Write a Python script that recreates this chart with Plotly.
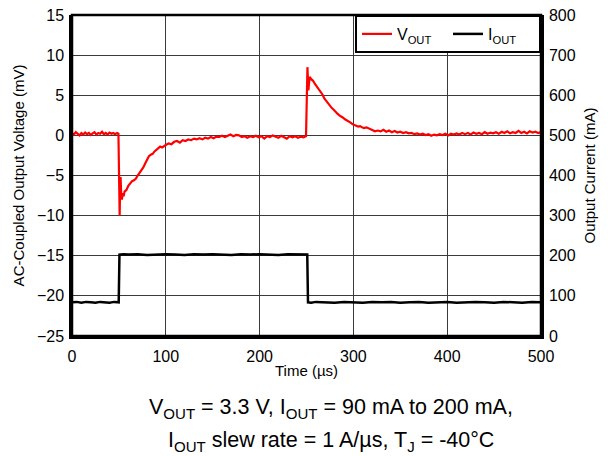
import plotly.graph_objects as go

# VOUT (AC-coupled, mV) vs time (us)
time_v = [0, 2, 4, 6, 8, 10, 12, 14, 16, 18, 20, 22, 24, 26, 28, 30, 32, 34, 36, 38, 40, 42, 44, 46, 48, 49.5,
          50.3, 50.8, 51.3, 51.8, 52.5, 53.2, 54, 55, 56, 58, 60, 62, 64, 66, 68, 70, 72, 74, 76, 78, 80, 82, 84,
          86, 88, 90, 92, 94, 96, 98, 100, 103, 106, 109, 112, 115, 118, 121, 124, 127, 130, 133, 136, 139, 142,
          145, 148, 151, 154, 157, 160, 163, 166, 169, 172, 175, 178, 181, 184, 187, 190, 193, 196, 199, 202, 205,
          208, 211, 214, 217, 220, 223, 226, 229, 232, 235, 238, 241, 244, 247, 249.5,
          250.5, 251, 251.5, 252, 252.7, 253.5, 255, 257, 259, 261, 263, 265, 267, 269, 271, 273, 275, 277, 279,
          281, 283, 285, 287, 289, 291, 293, 295, 297, 299, 301, 303, 305, 307, 309, 311, 314, 317, 320, 323, 326,
          329, 332, 335, 338, 341, 344, 347, 350, 353, 356, 359, 362, 365, 368, 371, 374, 377, 380, 383, 386, 389,
          392, 395, 398, 401, 404, 407, 410, 413, 416, 419, 422, 425, 428, 431, 434, 437, 440, 443, 446, 449, 452,
          455, 458, 461, 464, 467, 470, 473, 476, 479, 482, 485, 488, 491, 494, 497, 500]
vout_mv = [0.3, 0.1, 0.4, 0.2, 0.0, 0.3, 0.1, 0.35, 0.15, 0.3, 0.05, 0.25, 0.4, 0.1, 0.3, 0.2, 0.45, 0.15, 0.3, 0.1,
           0.35, 0.2, 0.3, 0.15, 0.3, 0.2,
           -5.0, -10.0, -6.5, -5.2, -7.5, -8.0, -7.2, -7.6, -7.0, -6.8, -6.3, -6.0, -5.7, -5.6, -5.4, -5.0, -4.7,
           -4.3, -4.0, -3.5, -3.0, -2.6, -2.4, -2.3, -2.0, -1.8, -1.6, -1.4, -1.5, -1.3, -1.2, -1.0, -1.1, -0.8,
           -0.7, -0.9, -0.6, -0.7, -0.5, -0.6, -0.4, -0.5, -0.35, -0.5, -0.3, -0.4, -0.2, -0.35, -0.15, -0.2, -0.05,
           -0.2, 0.0, 0.1, -0.1, 0.05, 0.0, -0.2, -0.1, -0.3, -0.1, -0.2, -0.05, -0.25, -0.1, -0.4, -0.1, -0.2, 0.0,
           -0.15, -0.3, -0.05, -0.2, -0.4, -0.1, -0.25, -0.1, -0.3, -0.15, -0.25, -0.1,
           4.0, 8.5, 7.0, 5.6, 6.5, 7.3, 7.0, 6.8, 6.4, 6.1, 5.8, 5.4, 5.1, 4.6, 4.3, 3.9, 3.6, 3.4, 3.2, 2.9, 2.7,
           2.5, 2.4, 2.2, 2.0, 1.9, 1.7, 1.6, 1.4, 1.3, 1.2, 1.1, 1.15, 1.0, 0.9, 1.0, 0.8, 0.7, 0.5, 0.6, 0.5, 0.7,
           0.45, 0.6, 0.4, 0.55, 0.35, 0.45, 0.3, 0.4, 0.25, 0.3, 0.15, 0.25, 0.1, 0.2, 0.05, 0.15, -0.05, 0.1, 0.0,
           0.15, 0.05, 0.2, 0.0, 0.2, 0.1, 0.25, 0.1, 0.3, 0.15, 0.3, 0.1, 0.35, 0.2, 0.3, 0.15, 0.4, 0.2, 0.35,
           0.25, 0.4, 0.2, 0.45, 0.3, 0.5, 0.25, 0.4, 0.3, 0.55, 0.3, 0.45, 0.25, 0.5, 0.35, 0.45, 0.3, 0.4]

# IOUT (mA) vs time (us)
time_i = [0, 5, 10, 15, 20, 25, 30, 35, 40, 45, 49.8, 50.6, 55, 60, 70, 80, 90, 100, 110, 120, 130, 140, 150, 160,
          170, 180, 190, 200, 210, 220, 230, 240, 250.8, 251.6, 255, 260, 270, 280, 290, 300, 310, 320, 330, 340,
          350, 360, 370, 380, 390, 400, 410, 420, 430, 440, 450, 460, 470, 480, 490, 500]
iout_ma = [84, 85, 83, 85, 84, 83, 85, 84, 83, 85, 84, 203, 204, 203, 204, 202, 203, 204, 203, 202, 204, 203, 204,
           203, 202, 204, 203, 204, 203, 202, 204, 203, 203, 84, 83, 85, 84, 83, 85, 84, 83, 85, 84, 85, 83, 84,
           85, 83, 84, 85, 83, 84, 85, 84, 83, 85, 84, 83, 85, 84]

x_ticks = [0, 100, 200, 300, 400, 500]
y_left_ticks = [15, 10, 5, 0, -5, -10, -15, -20, -25]
y_right_ticks = [0, 100, 200, 300, 400, 500, 600, 700, 800]

caption_line1 = "V<sub>OUT</sub> = 3.3 V, I<sub>OUT</sub> = 90 mA to 200 mA,"
caption_line2 = "I<sub>OUT</sub> slew rate = 1 A/µs, T<sub>J</sub> = -40°C"

FONT = "Liberation Sans, Arial, sans-serif"

fig = go.Figure()
fig.add_trace(go.Scatter(x=time_v, y=vout_mv, mode="lines", name="V<sub>OUT</sub>",
                         line=dict(color="#ff0000", width=2.2), yaxis="y"))
fig.add_trace(go.Scatter(x=time_i, y=iout_ma, mode="lines", name="I<sub>OUT</sub>",
                         line=dict(color="#000000", width=2.5), yaxis="y2"))

axis_common = dict(showline=True, linecolor="black", linewidth=2.5, mirror=False, ticks="",
                   tickfont=dict(family=FONT, size=16, color="black"), zeroline=False, automargin=False,
                   ticklabeloverflow="allow")

fig.update_layout(
    width=600, height=448,
    margin=dict(l=64, r=67, t=7, b=120),
    paper_bgcolor="white", plot_bgcolor="white",
    font=dict(family=FONT, color="black"),
    xaxis=dict(range=[0, 500], tickvals=x_ticks, showgrid=True, gridcolor="#3a3a3a", gridwidth=1,
               ticklabelstandoff=4,
               title=dict(text="Time (µs)", font=dict(size=15), standoff=2), **axis_common),
    yaxis=dict(range=[-25, 15], tickvals=y_left_ticks, showgrid=True, gridcolor="#3a3a3a", gridwidth=1,
               ticklabelstandoff=2,
               title=dict(text="AC-Coupled Output Voltage (mV)", font=dict(size=15), standoff=9),
               **axis_common),
    yaxis2=dict(range=[0, 800], tickvals=y_right_ticks, overlaying="y", side="right", showgrid=False,
                ticklabelstandoff=2,
                title=dict(text="Output Current (mA)", font=dict(size=15), standoff=10), **axis_common),
    legend=dict(orientation="h", x=1, y=1, xanchor="right", yanchor="top",
                bgcolor="white", bordercolor="black", borderwidth=2,
                entrywidth=46, entrywidthmode="pixels",
                font=dict(family=FONT, size=16, color="black")),
    shapes=[dict(type="rect", xref="paper", yref="paper", x0=0, x1=1, y0=0, y1=1,
                 line=dict(color="black", width=2.5), layer="above")],
    annotations=[
        dict(text=caption_line1, xref="paper", yref="paper", x=0.552, y=-0.227, xanchor="center",
             yanchor="middle", showarrow=False, font=dict(family=FONT, size=21.5, color="black")),
        dict(text=caption_line2, xref="paper", yref="paper", x=0.552, y=-0.330, xanchor="center",
             yanchor="middle", showarrow=False, font=dict(family=FONT, size=21.5, color="black")),
    ],
)

fig.write_html("out.html")
